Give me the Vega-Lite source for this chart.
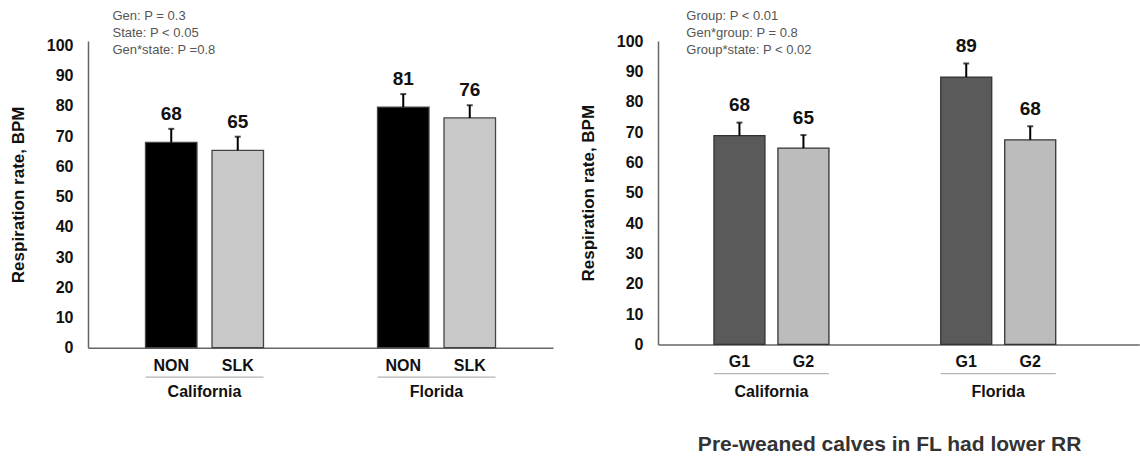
{
  "$schema": "https://vega.github.io/schema/vega-lite/v6.json",
  "padding": {"left": 9, "top": 9, "right": 0, "bottom": 0},
  "background": "#ffffff",
  "config": {
    "font": "Liberation Sans",
    "view": {"stroke": null},
    "axis": {
      "grid": false, "ticks": false, "domainColor": "#666666", "domainWidth": 1.5, "labelOverlap": false,
      "labelFont": "Liberation Sans", "labelFontWeight": "bold", "labelFontSize": 16, "labelColor": "#111111",
      "titleFont": "Liberation Sans", "titleFontWeight": "bold", "titleFontSize": 17, "titleColor": "#111111"
    },
    "axisY": {"tickCount": 12, "labelOverlap": false}
  },
  "datasets": {
    "left": [
      {"state": "California", "gen": "NON", "rr": 67.9, "upper": 72.4, "label": "68"},
      {"state": "California", "gen": "SLK", "rr": 65.3, "upper": 69.8, "label": "65"},
      {"state": "Florida", "gen": "NON", "rr": 79.6, "upper": 83.9, "label": "81"},
      {"state": "Florida", "gen": "SLK", "rr": 76.0, "upper": 80.2, "label": "76"}
    ],
    "right": [
      {"state": "California", "group": "G1", "rr": 68.8, "upper": 73.1, "label": "68"},
      {"state": "California", "group": "G2", "rr": 64.7, "upper": 69.0, "label": "65"},
      {"state": "Florida", "group": "G1", "rr": 88.1, "upper": 92.6, "label": "89"},
      {"state": "Florida", "group": "G2", "rr": 67.4, "upper": 71.9, "label": "68"}
    ],
    "notes": [
      {"panel": "left", "note": "Gen: P = 0.3\nState: P < 0.05\nGen*state: P =0.8"},
      {"panel": "right", "note": "Group: P < 0.01\nGen*group: P = 0.8\nGroup*state: P < 0.02"}
    ]
  },
  "hconcat": [
    {
      "width": 465,
      "height": 306.7,
      "data": {"name": "left"},
      "layer": [
        {
          "mark": {"type": "bar", "stroke": "#444444", "strokeWidth": 1.3},
          "encoding": {
            "x": {"field": "state", "type": "nominal",
                  "scale": {"domain": ["California", "Florida"], "paddingInner": 0.4914, "paddingOuter": 0.2478},
                  "axis": {"title": null, "labelAngle": 0, "labelPadding": 36}},
            "xOffset": {"field": "gen", "type": "nominal", "scale": {"domain": ["NON", "SLK"], "paddingInner": 0.2256, "paddingOuter": 0}},
            "y": {"field": "rr", "type": "quantitative", "scale": {"domain": [0, 101.46], "nice": false},
                  "axis": {"values": [0, 10, 20, 30, 40, 50, 60, 70, 80, 90, 100], "tickCount": 12, "labelOverlap": false, "title": "Respiration rate, BPM", "labelPadding": 15, "titlePadding": 19}},
            "fill": {"field": "gen", "type": "nominal", "scale": {"domain": ["NON", "SLK"], "range": ["#000000", "#c8c8c8"]}, "legend": null}
          }
        },
        {
          "mark": {"type": "rule", "strokeWidth": 2, "color": "#000000"},
          "encoding": {
            "x": {"field": "state", "type": "nominal"},
            "xOffset": {"field": "gen", "type": "nominal"},
            "y": {"field": "rr", "type": "quantitative"},
            "y2": {"field": "upper"}
          }
        },
        {
          "mark": {"type": "tick", "thickness": 2, "size": 6, "color": "#000000"},
          "encoding": {
            "x": {"field": "state", "type": "nominal"},
            "xOffset": {"field": "gen", "type": "nominal"},
            "y": {"field": "upper", "type": "quantitative"}
          }
        },
        {
          "mark": {"type": "text", "baseline": "alphabetic", "dy": -9, "fontSize": 19, "fontWeight": "bold", "color": "#111111"},
          "encoding": {
            "x": {"field": "state", "type": "nominal"},
            "xOffset": {"field": "gen", "type": "nominal"},
            "y": {"field": "upper", "type": "quantitative"},
            "text": {"field": "label"}
          }
        },
        {
          "mark": {"type": "text", "baseline": "middle", "dy": 18, "fontSize": 16, "fontWeight": "bold", "color": "#111111"},
          "encoding": {
            "x": {"field": "state", "type": "nominal"},
            "xOffset": {"field": "gen", "type": "nominal"},
            "y": {"datum": 0},
            "text": {"field": "gen"}
          }
        },
        {
          "transform": [{"filter": "datum.gen == 'NON'"}],
          "mark": {"type": "bar", "color": "#b4b4b4"},
          "encoding": {
            "x": {"field": "state", "type": "nominal"},
            "y": {"datum": -9.5},
            "y2": {"datum": -9.9}
          }
        },
        {
          "data": {"name": "notes"},
          "transform": [{"filter": "datum.panel == 'left'"}],
          "mark": {"type": "text", "align": "left", "baseline": "middle", "lineBreak": "\n", "lineHeight": 17, "fontSize": 13, "color": "#555555", "dx": -33},
          "encoding": {
            "x": {"datum": "California", "bandPosition": 0},
            "y": {"datum": 109.8},
            "text": {"field": "note"}
          }
        }
      ]
    },
    {
      "width": 481.3,
      "height": 303.4,
      "data": {"name": "right"},
      "title": {"text": "Pre-weaned calves in FL had lower RR", "orient": "bottom", "anchor": "middle", "fontSize": 21, "fontWeight": "bold", "color": "#333333", "offset": 35, "dx": -9},
      "layer": [
        {
          "mark": {"type": "bar", "stroke": "#333333", "strokeWidth": 1.3},
          "encoding": {
            "x": {"field": "state", "type": "nominal",
                  "scale": {"domain": ["California", "Florida"], "paddingInner": 0.493, "paddingOuter": 0.3076, "align": 0.401},
                  "axis": {"title": null, "labelAngle": 0, "labelPadding": 39}},
            "xOffset": {"field": "group", "type": "nominal", "scale": {"domain": ["G1", "G2"], "paddingInner": 0.203, "paddingOuter": 0}},
            "y": {"field": "rr", "type": "quantitative", "scale": {"domain": [0, 100], "nice": false},
                  "axis": {"values": [0, 10, 20, 30, 40, 50, 60, 70, 80, 90, 100], "tickCount": 12, "labelOverlap": false, "title": "Respiration rate, BPM", "labelPadding": 15, "titlePadding": 19}},
            "fill": {"field": "group", "type": "nominal", "scale": {"domain": ["G1", "G2"], "range": ["#5a5a5a", "#bcbcbc"]}, "legend": null}
          }
        },
        {
          "mark": {"type": "rule", "strokeWidth": 2, "color": "#000000"},
          "encoding": {
            "x": {"field": "state", "type": "nominal"},
            "xOffset": {"field": "group", "type": "nominal"},
            "y": {"field": "rr", "type": "quantitative"},
            "y2": {"field": "upper"}
          }
        },
        {
          "mark": {"type": "tick", "thickness": 2, "size": 6, "color": "#000000"},
          "encoding": {
            "x": {"field": "state", "type": "nominal"},
            "xOffset": {"field": "group", "type": "nominal"},
            "y": {"field": "upper", "type": "quantitative"}
          }
        },
        {
          "mark": {"type": "text", "baseline": "alphabetic", "dy": -11.5, "fontSize": 19, "fontWeight": "bold", "color": "#111111"},
          "encoding": {
            "x": {"field": "state", "type": "nominal"},
            "xOffset": {"field": "group", "type": "nominal"},
            "y": {"field": "upper", "type": "quantitative"},
            "text": {"field": "label"}
          }
        },
        {
          "mark": {"type": "text", "baseline": "middle", "dy": 17.5, "fontSize": 16, "fontWeight": "bold", "color": "#111111"},
          "encoding": {
            "x": {"field": "state", "type": "nominal"},
            "xOffset": {"field": "group", "type": "nominal"},
            "y": {"datum": 0},
            "text": {"field": "group"}
          }
        },
        {
          "transform": [{"filter": "datum.group == 'G1'"}],
          "mark": {"type": "bar", "color": "#b4b4b4"},
          "encoding": {
            "x": {"field": "state", "type": "nominal"},
            "y": {"datum": -9.4},
            "y2": {"datum": -9.8}
          }
        },
        {
          "data": {"name": "notes"},
          "transform": [{"filter": "datum.panel == 'right'"}],
          "mark": {"type": "text", "align": "left", "baseline": "middle", "lineBreak": "\n", "lineHeight": 17, "fontSize": 13, "color": "#555555", "dx": -27.6},
          "encoding": {
            "x": {"datum": "California", "bandPosition": 0},
            "y": {"datum": 108.3},
            "text": {"field": "note"}
          }
        }
      ]
    }
  ],
  "spacing": 26,
  "resolve": {"scale": {"fill": "independent", "xOffset": "independent", "x": "independent", "y": "independent"}}
}
